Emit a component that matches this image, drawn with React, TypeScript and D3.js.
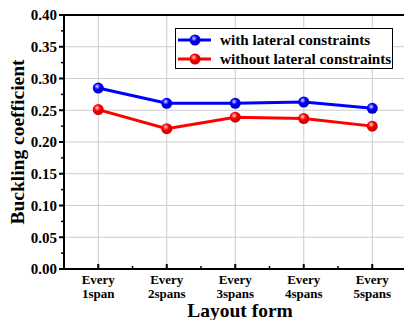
import React from "react";
import * as d3 from "d3";

const categories = ["Every|1span", "Every|2spans", "Every|3spans", "Every|4spans", "Every|5spans"];
const withLateral = [0.285, 0.261, 0.261, 0.263, 0.253];
const withoutLateral = [0.251, 0.221, 0.239, 0.237, 0.225];
const yTicks = [0, 0.05, 0.1, 0.15, 0.2, 0.25, 0.3, 0.35, 0.4];
const seriesNames = ["with lateral constraints", "without lateral constraints"];

const W = 404, H = 320;
const L = 64, T = 15, R = 406.5, B = 269;
const FONT = "'Liberation Serif', 'Times New Roman', serif";

export default function App() {
  const x = d3.scaleBand<string>().domain(categories).range([L, R]);
  const y = d3.scaleLinear().domain([0, 0.4]).range([B, T]);
  const cx = (c: string) => (x(c) as number) + x.bandwidth() / 2;
  const line = d3.line<number>().x((_, i) => cx(categories[i])).y((d) => y(d));
  const minorY = d3.range(0.025, 0.4, 0.05);
  const series = [
    { name: seriesNames[0], data: withLateral, color: "#0000ff", grad: "gb" },
    { name: seriesNames[1], data: withoutLateral, color: "#ff0000", grad: "gr" },
  ];
  return (
    <svg width={W} height={H} style={{ position: "absolute", left: 0, top: 0 }} fontFamily={FONT}>
      <defs>
        <radialGradient id="gb" cx="0.4" cy="0.35" r="0.6">
          <stop offset="0" stopColor="#d8d8ff" />
          <stop offset="0.45" stopColor="#0000ff" />
          <stop offset="1" stopColor="#0000c8" />
        </radialGradient>
        <radialGradient id="gr" cx="0.4" cy="0.35" r="0.6">
          <stop offset="0" stopColor="#ffd8d8" />
          <stop offset="0.45" stopColor="#ff0000" />
          <stop offset="1" stopColor="#c80000" />
        </radialGradient>
      </defs>
      <rect x={0} y={0} width={W} height={H} fill="#fff" />
      {yTicks.slice(1, -1).map((t) => (
        <line key={"gy" + t} x1={L} x2={W} y1={y(t)} y2={y(t)} stroke="#cccccc" strokeWidth={1} />
      ))}
      {categories.map((c) => (
        <line key={"gx" + c} x1={cx(c)} x2={cx(c)} y1={T} y2={B} stroke="#cccccc" strokeWidth={1} />
      ))}
      <line x1={L} x2={W} y1={T} y2={T} stroke="#000" strokeWidth={2} />
      <line x1={L} x2={W} y1={B} y2={B} stroke="#000" strokeWidth={2} />
      <line x1={L} x2={L} y1={T - 1} y2={B + 1} stroke="#000" strokeWidth={2} />
      {yTicks.map((t) => (
        <g key={"yt" + t}>
          <line x1={L - 5} x2={L} y1={y(t)} y2={y(t)} stroke="#000" strokeWidth={2} />
          <text x={57} y={y(t)} dy="0.35em" textAnchor="end" fontSize={15} fontWeight="bold">
            {t.toFixed(2)}
          </text>
        </g>
      ))}
      {minorY.map((t) => (
        <line key={"my" + t} x1={L - 3} x2={L} y1={y(t)} y2={y(t)} stroke="#000" strokeWidth={1.5} />
      ))}
      {categories.map((c) => (
        <g key={"xt" + c}>
          <line x1={cx(c)} x2={cx(c)} y1={B} y2={B - 5} stroke="#000" strokeWidth={2} />
          <line x1={cx(c) + x.bandwidth() / 2} x2={cx(c) + x.bandwidth() / 2} y1={B} y2={B - 3} stroke="#000" strokeWidth={1.5} />
          <text x={cx(c)} y={284} textAnchor="middle" fontSize={13} fontWeight="bold">{c.split("|")[0]}</text>
          <text x={cx(c)} y={298} textAnchor="middle" fontSize={13} fontWeight="bold">{c.split("|")[1]}</text>
        </g>
      ))}
      <text x={240} y={316.5} textAnchor="middle" fontSize={19.5} fontWeight="bold">Layout form</text>
      <text transform={`translate(24,${(T + B) / 2}) rotate(-90)`} textAnchor="middle" fontSize={19.5} fontWeight="bold">
        Buckling coefficient
      </text>
      {series.map((s) => (
        <g key={s.name}>
          <path d={line(s.data) || ""} fill="none" stroke={s.color} strokeWidth={3} />
          {s.data.map((v, i) => (
            <circle key={i} cx={cx(categories[i])} cy={y(v)} r={5.5} fill={`url(#${s.grad})`} />
          ))}
        </g>
      ))}
      <rect x={175.5} y={28.5} width={217} height={40} fill="#fff" stroke="#000" strokeWidth={1} />
      {series.map((s, i) => (
        <g key={"lg" + s.name}>
          <line x1={178} x2={211} y1={40 + i * 19} y2={40 + i * 19} stroke={s.color} strokeWidth={3} />
          <circle cx={195} cy={40 + i * 19} r={5.5} fill={`url(#${s.grad})`} />
          <text x={220} y={40 + i * 19} dy="0.35em" fontSize={15.2} fontWeight="bold">{s.name}</text>
        </g>
      ))}
    </svg>
  );
}
